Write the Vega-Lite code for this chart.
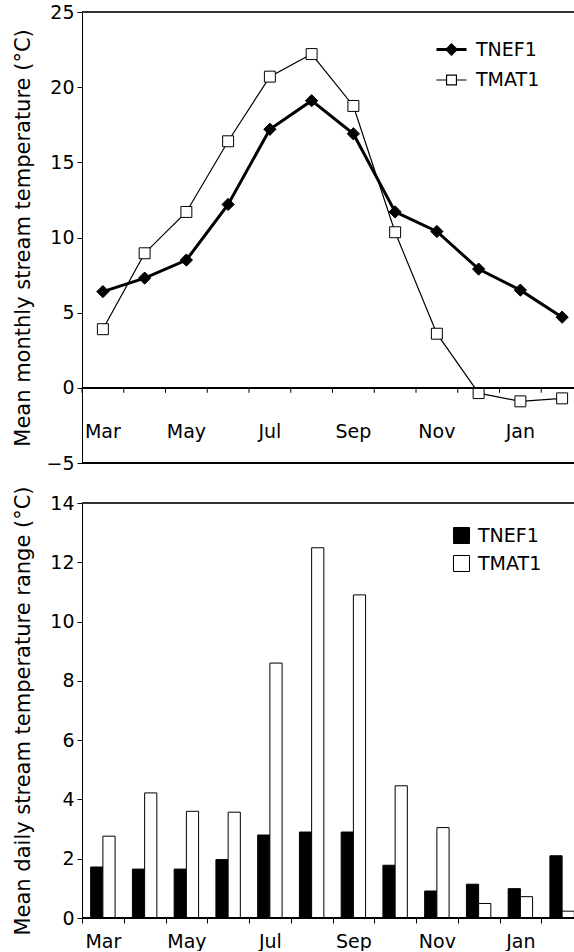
{
  "$schema": "https://vega.github.io/schema/vega-lite/v6.json",
  "padding": {"left": 12, "top": 3, "right": 0, "bottom": 0},
  "bounds": "flush",
  "spacing": 40,
  "resolve": {"scale": {"fill": "independent", "shape": "independent", "strokeWidth": "independent", "x": "independent", "y": "independent"}, "legend": {"fill": "independent", "shape": "independent", "strokeWidth": "independent"}},
  "config": {
    "view": {"stroke": null},
    "font": "DejaVu Sans",
    "axis": {"grid": false, "domainColor": "black", "tickColor": "black", "labelColor": "black", "titleColor": "black", "labelFont": "DejaVu Sans", "titleFont": "DejaVu Sans", "titleFontWeight": "normal", "labelFontSize": 19, "titleFontSize": 21, "tickSize": 5, "domainWidth": 1, "tickWidth": 1},
    "legend": {"labelFont": "DejaVu Sans", "labelFontSize": 19, "labelColor": "black", "padding": 0}
  },
  "datasets": {
    "monthly": [
      {"month": "Mar", "site": "TNEF1", "temp": 6.4},
      {"month": "Apr", "site": "TNEF1", "temp": 7.3},
      {"month": "May", "site": "TNEF1", "temp": 8.5},
      {"month": "Jun", "site": "TNEF1", "temp": 12.2},
      {"month": "Jul", "site": "TNEF1", "temp": 17.2},
      {"month": "Aug", "site": "TNEF1", "temp": 19.1},
      {"month": "Sep", "site": "TNEF1", "temp": 16.9},
      {"month": "Oct", "site": "TNEF1", "temp": 11.7},
      {"month": "Nov", "site": "TNEF1", "temp": 10.4},
      {"month": "Dec", "site": "TNEF1", "temp": 7.9},
      {"month": "Jan", "site": "TNEF1", "temp": 6.5},
      {"month": "Feb", "site": "TNEF1", "temp": 4.7},
      {"month": "Mar", "site": "TMAT1", "temp": 3.9},
      {"month": "Apr", "site": "TMAT1", "temp": 8.95},
      {"month": "May", "site": "TMAT1", "temp": 11.7},
      {"month": "Jun", "site": "TMAT1", "temp": 16.4},
      {"month": "Jul", "site": "TMAT1", "temp": 20.7},
      {"month": "Aug", "site": "TMAT1", "temp": 22.2},
      {"month": "Sep", "site": "TMAT1", "temp": 18.75},
      {"month": "Oct", "site": "TMAT1", "temp": 10.35},
      {"month": "Nov", "site": "TMAT1", "temp": 3.6},
      {"month": "Dec", "site": "TMAT1", "temp": -0.35},
      {"month": "Jan", "site": "TMAT1", "temp": -0.9},
      {"month": "Feb", "site": "TMAT1", "temp": -0.7}
    ],
    "daily": [
      {"month": "Mar", "site": "TNEF1", "range": 1.72},
      {"month": "Apr", "site": "TNEF1", "range": 1.65},
      {"month": "May", "site": "TNEF1", "range": 1.65},
      {"month": "Jun", "site": "TNEF1", "range": 1.97},
      {"month": "Jul", "site": "TNEF1", "range": 2.8},
      {"month": "Aug", "site": "TNEF1", "range": 2.9},
      {"month": "Sep", "site": "TNEF1", "range": 2.9},
      {"month": "Oct", "site": "TNEF1", "range": 1.78},
      {"month": "Nov", "site": "TNEF1", "range": 0.91},
      {"month": "Dec", "site": "TNEF1", "range": 1.14},
      {"month": "Jan", "site": "TNEF1", "range": 0.99},
      {"month": "Feb", "site": "TNEF1", "range": 2.1},
      {"month": "Mar", "site": "TMAT1", "range": 2.76},
      {"month": "Apr", "site": "TMAT1", "range": 4.22},
      {"month": "May", "site": "TMAT1", "range": 3.6},
      {"month": "Jun", "site": "TMAT1", "range": 3.57},
      {"month": "Jul", "site": "TMAT1", "range": 8.6},
      {"month": "Aug", "site": "TMAT1", "range": 12.49},
      {"month": "Sep", "site": "TMAT1", "range": 10.9},
      {"month": "Oct", "site": "TMAT1", "range": 4.46},
      {"month": "Nov", "site": "TMAT1", "range": 3.05},
      {"month": "Dec", "site": "TMAT1", "range": 0.49},
      {"month": "Jan", "site": "TMAT1", "range": 0.72},
      {"month": "Feb", "site": "TMAT1", "range": 0.23}
    ]
  },
  "vconcat": [
    {
      "width": 492,
      "height": 451,
      "data": {"name": "monthly"},
      "layer": [
        {
          "transform": [{"filter": "datum.site === 'TMAT1'"}],
          "mark": {"type": "line", "color": "black", "strokeWidth": 1.2},
          "encoding": {
            "x": {"field": "month", "type": "nominal",
              "scale": {"type": "band", "domain": ["Mar","Apr","May","Jun","Jul","Aug","Sep","Oct","Nov","Dec","Jan","Feb"], "range": [0, 501], "paddingInner": 0, "paddingOuter": 0},
              "axis": {"title": null, "domain": false, "ticks": false, "labelAngle": 0, "labelPadding": -41,
                "labelExpr": "indexof(['Mar','May','Jul','Sep','Nov','Jan'], datum.value) >= 0 ? datum.value : ''"}},
            "y": {"field": "temp", "type": "quantitative",
              "scale": {"domain": [-5, 25], "nice": false, "zero": false},
              "axis": {"title": "Mean monthly stream temperature (°C)", "values": [-5, 0, 5, 10, 15, 20, 25], "labelPadding": 3, "titlePadding": 12}}
          }
        },
        {
          "transform": [{"filter": "datum.site === 'TNEF1'"}],
          "mark": {"type": "line", "color": "black", "strokeWidth": 3},
          "encoding": {
            "x": {"field": "month", "type": "nominal"},
            "y": {"field": "temp", "type": "quantitative"}
          }
        },
        {
          "transform": [{"filter": "datum.site === 'TNEF1'"}],
          "mark": {"type": "rule", "color": "black", "strokeWidth": 1},
          "encoding": {
            "x": {"field": "month", "type": "nominal", "bandPosition": 0},
            "y": {"datum": 0, "type": "quantitative"},
            "y2": {"datum": -0.33}
          }
        },
        {
          "transform": [{"filter": "datum.site === 'TNEF1'"}],
          "mark": {"type": "point", "shape": "diamond", "filled": true, "fill": "black", "stroke": "black", "strokeWidth": 1, "size": 150, "opacity": 1},
          "encoding": {
            "x": {"field": "month", "type": "nominal"},
            "y": {"field": "temp", "type": "quantitative"}
          }
        },
        {
          "transform": [{"filter": "datum.site === 'TMAT1'"}],
          "mark": {"type": "point", "shape": "square", "filled": true, "fill": "white", "stroke": "black", "strokeWidth": 1, "size": 120, "opacity": 1},
          "encoding": {
            "x": {"field": "month", "type": "nominal"},
            "y": {"field": "temp", "type": "quantitative"}
          }
        },
        {
          "transform": [{"filter": "false"}],
          "mark": {"type": "point", "filled": true, "stroke": "black", "size": 900, "opacity": 1},
          "encoding": {
            "x": {"field": "month", "type": "nominal"},
            "y": {"field": "temp", "type": "quantitative"},
            "shape": {"field": "site", "type": "nominal", "scale": {"domain": ["TNEF1", "TMAT1"], "range": ["M-1,0H1M0,-0.3L0.3,0L0,0.3L-0.3,0Z", "M-1,0H-0.33M0.33,0H1M-0.33,-0.33H0.33V0.33H-0.33Z"]},
              "legend": {"orient": "none", "legendX": 353, "legendY": 21, "title": null, "symbolSize": 900, "labelOffset": 8, "rowPadding": 4}},
            "fill": {"field": "site", "type": "nominal", "scale": {"domain": ["TNEF1", "TMAT1"], "range": ["black", "white"]},
              "legend": {"orient": "none", "legendX": 353, "legendY": 21, "title": null, "symbolSize": 900, "labelOffset": 8, "rowPadding": 4}},
            "strokeWidth": {"field": "site", "type": "nominal", "scale": {"domain": ["TNEF1", "TMAT1"], "range": [3, 1.2]},
              "legend": {"orient": "none", "legendX": 353, "legendY": 21, "title": null, "symbolSize": 900, "labelOffset": 8, "rowPadding": 4}}
          }
        },
        {"mark": {"type": "rule", "color": "#333", "strokeWidth": 1}, "encoding": {"y": {"datum": 25, "type": "quantitative"}}},
        {"mark": {"type": "rule", "color": "black", "strokeWidth": 1}, "encoding": {"y": {"datum": -5, "type": "quantitative"}}},
        {"mark": {"type": "rule", "color": "black", "strokeWidth": 1}, "encoding": {"y": {"datum": 0, "type": "quantitative"}}}
      ]
    },
    {
      "width": 492,
      "height": 415,
      "data": {"name": "daily"},
      "layer": [
        {
          "mark": {"type": "bar", "stroke": "black", "strokeWidth": 1},
          "encoding": {
            "x": {"field": "month", "type": "nominal",
              "scale": {"type": "band", "domain": ["Mar","Apr","May","Jun","Jul","Aug","Sep","Oct","Nov","Dec","Jan","Feb"], "range": [0, 501], "paddingInner": 0, "paddingOuter": 0},
              "axis": {"title": null, "domain": false, "values": ["Mar","Apr","May","Jun","Jul","Aug","Sep","Oct","Nov","Dec","Jan"], "tickBand": "extent", "labelAngle": 0, "labelPadding": 9,
                "labelExpr": "indexof(['Mar','May','Jul','Sep','Nov','Jan'], datum.value) >= 0 ? datum.value : ''"}},
            "xOffset": {"field": "site", "type": "nominal", "scale": {"domain": ["TNEF1", "TMAT1"], "paddingInner": 0, "paddingOuter": 0.71}},
            "y": {"field": "range", "type": "quantitative",
              "scale": {"domain": [0, 14], "nice": false},
              "axis": {"title": "Mean daily stream temperature range (°C)", "values": [0,2,4,6,8,10,12,14], "labelPadding": 3, "titlePadding": 16}},
            "fill": {"field": "site", "type": "nominal", "scale": {"domain": ["TNEF1", "TMAT1"], "range": ["black", "white"]},
              "legend": {"orient": "none", "legendX": 370, "legendY": 23, "title": null, "symbolType": "square", "symbolSize": 256, "labelOffset": 7, "rowPadding": 7, "symbolStrokeColor": "black", "symbolStrokeWidth": 1,
                "encode": {"symbols": {"update": {"stroke": {"value": "black"}, "strokeWidth": {"value": 1}, "opacity": {"value": 1}}}}}}
          }
        },
        {"mark": {"type": "rule", "color": "#333", "strokeWidth": 1}, "encoding": {"y": {"datum": 14, "type": "quantitative"}}},
        {"mark": {"type": "rule", "color": "black", "strokeWidth": 1}, "encoding": {"y": {"datum": 0, "type": "quantitative"}}}
      ]
    }
  ]
}
